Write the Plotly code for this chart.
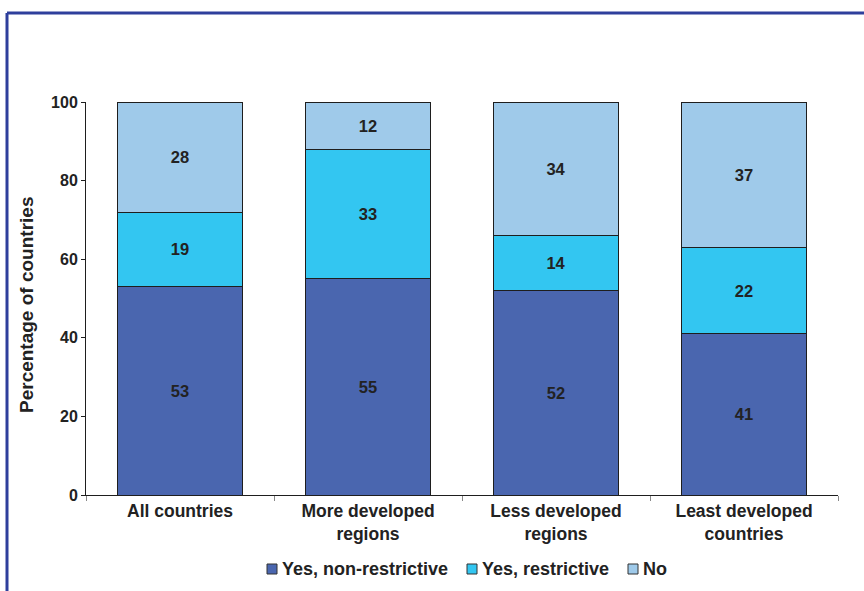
import plotly.graph_objects as go

categories = ["All countries", "More developed<br>regions", "Less developed<br>regions", "Least developed<br>countries"]
yes_non_restrictive = [53, 55, 52, 41]
yes_restrictive = [19, 33, 14, 22]
no_policy = [28, 12, 34, 37]

series = [
    ("Yes, non-restrictive", yes_non_restrictive, "#4A66AF"),
    ("Yes, restrictive", yes_restrictive, "#33C6F1"),
    ("No", no_policy, "#9FCAEA"),
]

FONT = "Liberation Sans, Arial, sans-serif"
TEXT = "#222222"
W, H = 864, 591
L, R, T, B = 86, 26, 102, 96

fig = go.Figure()
for name, vals, color in series:
    fig.add_trace(go.Bar(
        x=categories, y=vals, name=name,
        marker=dict(color=color, line=dict(color="#1E1E1E", width=1)),
        text=[str(v) for v in vals],
        textposition="inside", insidetextanchor="middle",
        textfont=dict(family=FONT, size=16.5, color=TEXT, weight="bold"),
        width=0.66,
        showlegend=False,
    ))

# pixel -> paper coordinate helpers
pw, ph = W - L - R, H - T - B
def px(x):
    return (x - L) / pw
def py(y):
    return (H - B - y) / ph

# frame around the figure (top and left edges)
frame_color = "#2E3F9C"
fig.add_shape(type="line", xref="paper", yref="paper",
              x0=px(7), x1=px(870), y0=py(13), y1=py(13),
              line=dict(color=frame_color, width=3))
fig.add_shape(type="line", xref="paper", yref="paper",
              x0=px(7), x1=px(7), y0=py(13), y1=py(600),
              line=dict(color=frame_color, width=3))

# y-axis title
fig.add_annotation(xref="paper", yref="paper", x=px(26), y=py(305),
                   xanchor="center", yanchor="middle", textangle=-90, showarrow=False,
                   text="Percentage of countries",
                   font=dict(family=FONT, size=19, color=TEXT, weight="bold"))

# legend row: small swatch followed by its label
legend_x = [267, 467, 628]
legend_y = 569
for (name, _, color), lx in zip(series, legend_x):
    fig.add_shape(type="rect", xref="paper", yref="paper",
                  x0=px(lx), x1=px(lx + 10), y0=py(legend_y - 5), y1=py(legend_y + 5),
                  fillcolor=color, line=dict(color="#333333", width=1))
    fig.add_annotation(xref="paper", yref="paper", x=px(lx + 13), y=py(legend_y),
                       xanchor="left", yanchor="middle", showarrow=False, text=name,
                       font=dict(family=FONT, size=18, color=TEXT, weight="bold"))

fig.update_layout(
    barmode="stack",
    width=W, height=H,
    margin=dict(l=L, r=R, t=T, b=B, autoexpand=False),
    paper_bgcolor="white", plot_bgcolor="white",
    font=dict(family=FONT, color=TEXT),
    showlegend=False,
    xaxis=dict(showline=True, linecolor="#1E1E1E", linewidth=1, automargin=False,
               ticks="outside", tickson="boundaries", ticklen=5, tickcolor="#888888",
               tickfont=dict(family=FONT, size=17.5, color=TEXT, weight="bold"),
               showgrid=False, zeroline=False),
    yaxis=dict(range=[0, 100], dtick=20, showline=True, linecolor="#1E1E1E", linewidth=1,
               automargin=False,
               ticks="outside", ticklen=4, tickcolor="#1E1E1E",
               tickfont=dict(family=FONT, size=16, color=TEXT, weight="bold"),
               showgrid=False, zeroline=False),
)

fig.write_html("out.html")
